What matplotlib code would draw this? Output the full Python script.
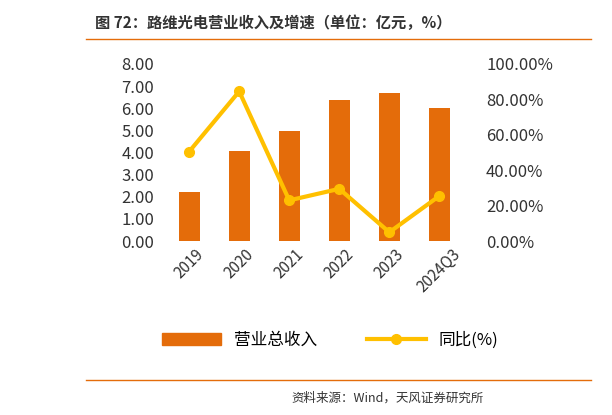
import matplotlib.pyplot as plt
from matplotlib.lines import Line2D

plt.rcParams['font.family'] = ['Noto Sans CJK SC', 'DejaVu Sans']

years = ["2019", "2020", "2021", "2022", "2023", "2024Q3"]
revenue = [2.20, 4.05, 4.95, 6.37, 6.70, 6.02]
growth = [50.5, 84.5, 23.0, 29.5, 5.0, 25.5]

fig = plt.figure(figsize=(6.12, 4.15), dpi=100)
ax = fig.add_axes([0.26, 0.419, 0.507, 0.427])
x = range(len(years))
ax.bar(x, revenue, width=0.42, color="#E46C0A", label="营业总收入")
ax.set_ylim(0, 8)
ax.set_yticks([i for i in range(9)])
ax.set_yticklabels(["%.2f" % i for i in range(9)], fontsize=12, color="#333333")
ax.set_xticks(list(x))
ax.set_xticklabels(years, rotation=45, fontsize=11, color="#333333")
ax.set_xlim(-0.6, 5.6)
for s in ax.spines.values():
    s.set_visible(False)
ax.tick_params(length=0)

ax2 = ax.twinx()
ax2.plot(x, growth, color="#FFC000", lw=3, marker="o", ms=7)
ax2.set_ylim(0, 100)
ax2.set_yticks(range(0, 101, 20))
ax2.set_yticklabels(["%.2f%%" % v for v in range(0, 101, 20)], fontsize=12, color="#333333")
for s in ax2.spines.values():
    s.set_visible(False)
ax2.tick_params(length=0, pad=12)

handles = [plt.Rectangle((0, 0), 1, 1, color="#E46C0A"),
           Line2D([], [], color="#FFC000", lw=3, marker="o", ms=7)]
fig.legend(handles, ["营业总收入", "同比(%)"], loc="center", bbox_to_anchor=(0.54, 0.18),
           ncol=2, frameon=False, fontsize=12, handlelength=3.5, columnspacing=3)

fig.text(0.155, 0.945, "图 72：路维光电营业收入及增速（单位：亿元，%）", fontsize=11,
         fontweight="bold", color="#333333", va="center")
fig.add_artist(Line2D([0.14, 0.965], [0.905, 0.905], color="#E46C0A", lw=1))
fig.add_artist(Line2D([0.14, 0.965], [0.085, 0.085], color="#E46C0A", lw=1))
fig.text(0.79, 0.04, "资料来源：Wind，天风证券研究所", fontsize=9, color="#333333",
         ha="right", va="center")

fig.savefig("out.png", dpi=100)
